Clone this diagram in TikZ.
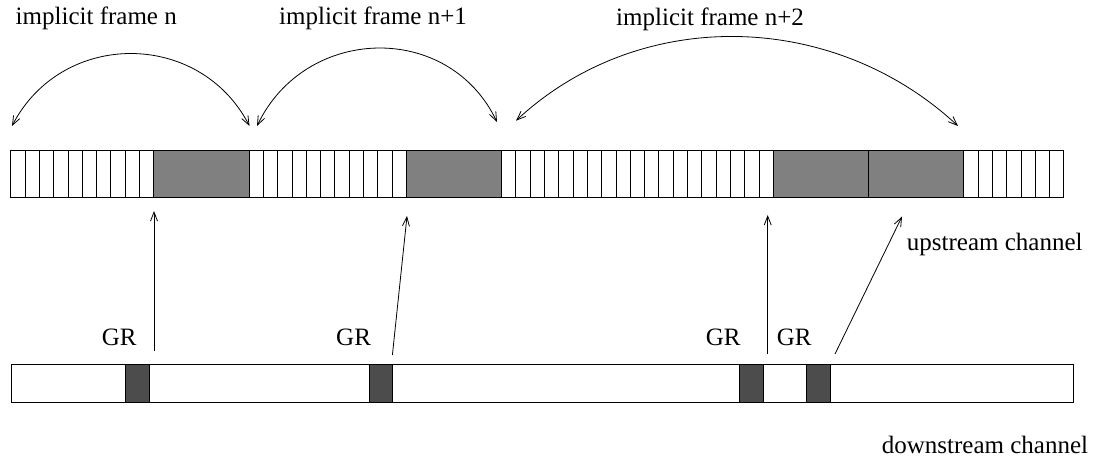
\documentclass[tikz,border=0pt]{standalone}
\usepackage{fontspec}
\setmainfont{Liberation Serif}
\usetikzlibrary{arrows.meta}
\begin{document}
\begin{tikzpicture}[x=1pt,y=1pt,
  lbl/.style={anchor=base west,inner sep=0pt,font=\fontsize{25}{30}\selectfont},
  slotline/.style={line width=0.9pt},
  grayblk/.style={draw=black,line width=0.9pt,fill=black!50},
  grblk/.style={draw=black,line width=0.9pt,fill=black!70},
  arr/.style={line width=0.8pt,-{Straight Barb[length=9pt,width=7pt]}},
  darr/.style={line width=0.8pt,{Straight Barb[length=9pt,width=7pt]}-{Straight Barb[length=9pt,width=7pt]}}]
\useasboundingbox (0,0) rectangle (1094,461);
% upstream bar
\def\s{14.3}
\draw[slotline] (10.8,263.7) rectangle (1063.9,311);
\foreach \i in {1,...,9} {\draw[slotline] ({10.8+\i*\s},263.7) -- ({10.8+\i*\s},311);}
\foreach \i in {1,...,10} {\draw[slotline] ({249.05+\i*\s},263.7) -- ({249.05+\i*\s},311);}
\foreach \i in {1,...,18} {\draw[slotline] ({501.6+\i*\s},263.7) -- ({501.6+\i*\s},311);}
\foreach \i in {1,...,6} {\draw[slotline] ({963.8+\i*\s},263.7) -- ({963.8+\i*\s},311);}
\draw[grayblk] (153.8,263.7) rectangle (249.05,311);
\draw[grayblk] (406.35,263.7) rectangle (501.6,311);
\draw[grayblk] (773.3,263.7) rectangle (868.55,311);
\draw[grayblk] (868.55,263.7) rectangle (963.8,311);
% downstream bar
\draw[slotline] (11,59) rectangle (1073,97);
\draw[grblk] (125.3,59) rectangle (149.7,97);
\draw[grblk] (369,59) rectangle (392.4,97);
\draw[grblk] (739.3,59) rectangle (763.7,97);
\draw[grblk] (806.7,59) rectangle (830.7,97);
% arrow endpoints
\coordinate (g1) at (154,110);   \coordinate (u1) at (154,250);
\coordinate (g2) at (392.4,106); \coordinate (u2) at (407,245);
\coordinate (g3) at (767.7,107); \coordinate (u3) at (767.7,246);
\coordinate (g4) at (835,107);   \coordinate (u4) at (902,244.5);
\draw[arr] (g1) -- (u1);
\draw[arr] (g2) -- (u2);
\draw[arr] (g3) -- (u3);
\draw[arr] (g4) -- (u4);
% frame arcs
\coordinate (f1l) at (12,335);  \coordinate (f1r) at (249.5,335);
\coordinate (f2l) at (257,335); \coordinate (f2r) at (497,339);
\coordinate (f3l) at (516,340.3); \coordinate (f3r) at (958,335);
\draw[darr] (f1l) to[out=62.6,in=117.4,looseness=1.17] (f1r);
\draw[darr] (f2l) to[out=64.4,in=115.6,looseness=1.19] (f2r);
\draw[darr] (f3l) to[out=42.9,in=137.1,looseness=0.98] (f3r);
% labels
\node[lbl] (t1) at (15.5,436) {implicit frame n};
\node[lbl] (t2) at (279,436) {implicit frame n+1};
\node[lbl] (t3) at (616,435) {implicit frame n+2};
\node[lbl] (up) at (906.7,211) {upstream channel};
\node[lbl] (gr1) at (101.7,116) {GR};
\node[lbl] (gr2) at (336,116) {GR};
\node[lbl] (gr3) at (705.7,116) {GR};
\node[lbl] (gr4) at (776.7,116) {GR};
\node[lbl] (down) at (881.7,8) {downstream channel};
\end{tikzpicture}
\end{document}
